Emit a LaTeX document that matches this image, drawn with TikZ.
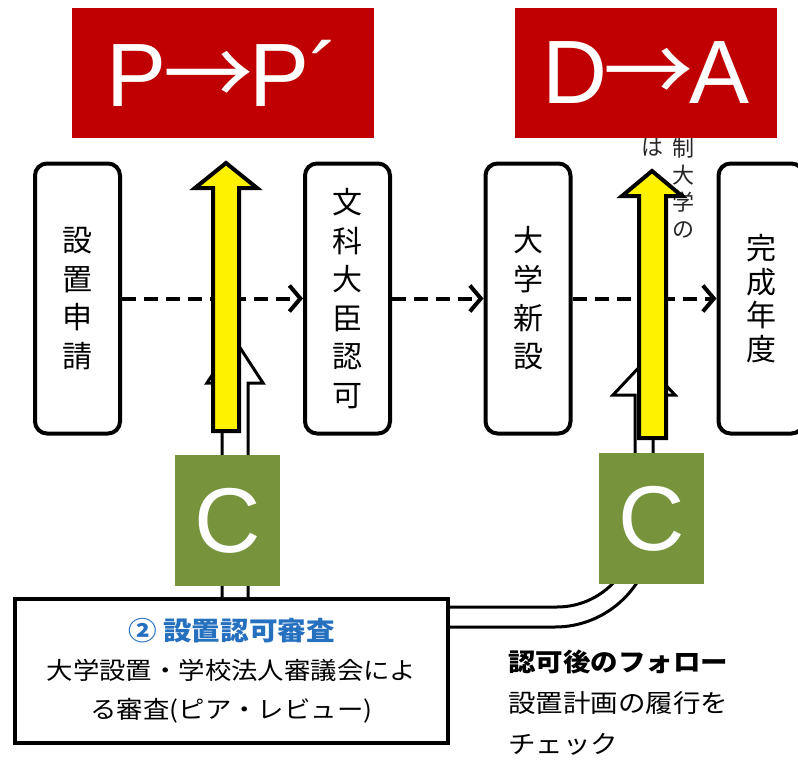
\documentclass[tikz,border=0pt]{standalone}
\usepackage{fontspec}
\setmainfont{Liberation Sans}
\newfontfamily\jp{Noto Sans CJK JP}
\newfontfamily\jpw[FakeStretch=1.1]{Noto Sans CJK JP}
\usetikzlibrary{arrows.meta}
\definecolor{pdred}{RGB}{192,0,0}
\definecolor{ckgreen}{RGB}{119,147,60}
\definecolor{titleblue}{RGB}{38,112,192}

\begin{document}
\begin{tikzpicture}[x=1pt,y=-1pt,
    stepbox/.style={draw,line width=4pt,rounded corners=12pt,minimum width=85pt,minimum height=270pt,inner sep=0pt,align=center,font=\jp\fontsize{30}{38.6}\selectfont},
    flow/.style={line width=4pt,dash pattern=on 14pt off 8pt,-{Straight Barb[length=11pt,width=26pt]}},
    pdbox/.style={fill=pdred,text=white,inner sep=0pt,minimum height=130pt,font=\fontsize{90}{90}\selectfont},
    ckbox/.style={fill=ckgreen,text=white,inner sep=0pt,minimum width=105pt,minimum height=131pt,font=\fontsize{92}{92}\selectfont},
    hollow/.style={draw,fill=white,line width=3pt},
    yellowup/.style={draw,fill=yellow,line width=4pt},
    note/.style={inner sep=0pt,align=center,text=black!85,font=\jp\fontsize{22}{27}\selectfont}]
    \useasboundingbox (0,0) rectangle (798,760);
    %被遮住的小字
    \node[note] (noteA) at (652,147) {は};
    \node[note] (noteB) at (683,188) {制\\大\\学\\の};
    %流程框
    \node[stepbox] (shinsei) at (77.5,298.5) {設\\置\\申\\請};
    \node[stepbox] (ninka) at (347.5,298.5) {文\\科\\大\\臣\\認\\可};
    \node[stepbox] (shinsetsu) at (528,298.5) {大\\学\\新\\設};
    \node[stepbox,font=\jp\fontsize{30}{33.5}\selectfont] (kansei) at (761,298.5) {完\\成\\年\\度};
    \draw[flow] (shinsei) -- (ninka);
    \draw[flow] (ninka) -- (shinsetsu);
    \draw[flow] (shinsetsu) -- (kansei);
    %审查框
    \node[draw,fill=white,line width=4pt,minimum width=433pt,minimum height=144pt,inner sep=0pt,align=center,font=\jpw\fontsize{24}{39}\selectfont] (shinsa) at (231.5,671)
        {{\color{titleblue}\fontsize{26}{39}\selectfont\bfseries ② 設置認可審査}\\大学設置・学校法人審議会によ\\る審査(ピア・レビュー)};
    %白色空心箭头
    \draw[hollow] (222,0 |- shinsa.north) -- (222,383) -- (207,383) -- (235,340) -- (263,383) -- (248,383) -- (248,0 |- shinsa.north);
    \draw[hollow] (shinsa.east |- 0,607) -- (557,607) .. controls (600,607) and (635,572) .. (635,529) -- (635,395) -- (613,395) -- (644,362)
        -- (675,395) -- (653,395) -- (653,529) .. controls (653,583) and (609,627) .. (555,627) -- (shinsa.east |- 0,627);
    %黄色箭头
    \draw[yellowup] (213,431) -- (213,188) -- (195,188) -- (226,163) -- (257,188) -- (239,188) -- (239,431) -- cycle;
    \draw[yellowup] (639,438) -- (639,196) -- (622,196) -- (652,171) -- (682,196) -- (666,196) -- (666,438) -- cycle;
    %PDCA标签
    \node[pdbox,minimum width=302pt] (plan) at (223,73) {P\kern-4pt{\jp →}\kern-4pt P´};
    \node[pdbox,minimum width=262pt] (doact) at (646,73) {D\kern-4pt{\jp →}\kern-4pt A};
    \node[ckbox] (checkA) at (227.5,520.5) {C};
    \node[ckbox] (checkB) at (651.5,518.5) {C};
    %认可后
    \node[anchor=north west,inner sep=0pt,align=left,font=\jpw\fontsize{25}{41}\selectfont] (follow) at (508,650)
        {{\bfseries 認可後のフォロー}\\設置計画の履行を\\チェック};
\end{tikzpicture}
\end{document}
